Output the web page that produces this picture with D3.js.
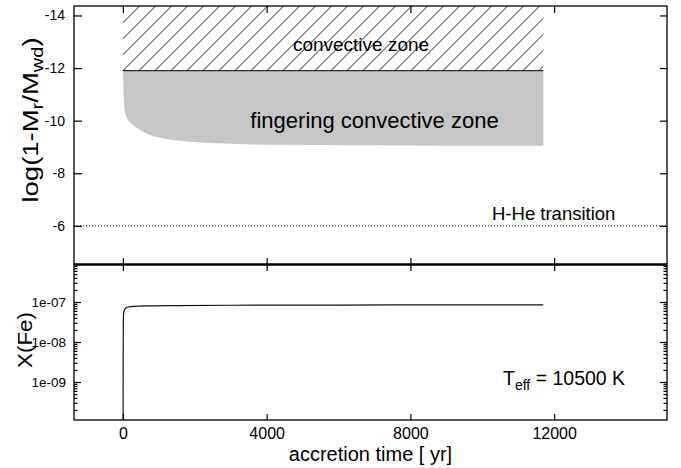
<!DOCTYPE html>
<html><head><meta charset="utf-8">
<script src="https://cdn.jsdelivr.net/npm/d3@7"></script>
<style>
body{margin:0;background:#fff}
svg{display:block}
text{font-family:"Liberation Sans",Arial,Helvetica,sans-serif;fill:#000}
</style>
</head><body>
<svg id="c" width="681" height="468"></svg>
<script>
// ---- data ----
const timeTicks = [0, 4000, 8000, 12000];
const depthTicks = [-14, -12, -10, -8, -6];
const feTicks = [1e-9, 1e-8, 1e-7];
const zoneTime = [0, 11700];
const convTop = -14.6;
const convBottom = -11.9;
const transitionDepth = -6;
const fingTime  = [0, 10, 20, 30, 45, 70, 110, 190, 300, 470, 750, 1100, 1500, 2200, 3000, 4500, 6500, 9000, 11700];
const fingLower = [-11.9, -11.5, -11.0, -10.7, -10.45, -10.25, -10.1, -9.95, -9.82, -9.65, -9.45, -9.33, -9.25, -9.17, -9.12, -9.08, -9.06, -9.05, -9.05];
const feTime  = [5, 7, 9, 12, 20, 40, 80, 150, 300, 700, 1500, 3000, 6000, 9000, 11700];
const feValue = [1e-11, 1e-9, 1e-8, 3e-8, 5e-8, 6.2e-8, 7e-8, 7.5e-8, 7.8e-8, 8.0e-8, 8.15e-8, 8.3e-8, 8.4e-8, 8.45e-8, 8.5e-8];

// ---- layout ----
const svg = d3.select('#c');
const L = 74, R = 667, T1 = 6, B1 = 264.5, B2 = 420;
const x = d3.scaleLinear().domain([-1360, 15140]).range([L, R]);
const y1 = d3.scaleLinear().domain([-4.53, -14.36]).range([B1, T1]);
const y2 = d3.scaleLog().domain([Math.pow(10, -9.95), Math.pow(10, -6.0625)]).range([B2, B1]);

const defs = svg.append('defs');
defs.append('clipPath').attr('id', 'clip1').append('rect')
  .attr('x', L).attr('y', T1).attr('width', R - L).attr('height', B1 - T1);
defs.append('clipPath').attr('id', 'clip2').append('rect')
  .attr('x', L).attr('y', B1).attr('width', R - L).attr('height', B2 - B1);
const pat = defs.append('pattern').attr('id', 'hatch')
  .attr('patternUnits', 'userSpaceOnUse').attr('width', 16).attr('height', 16)
  .attr('x', x(0)).attr('y', y1(convBottom));
pat.append('path').attr('d', 'M-4,4 L4,-4 M0,16 L16,0 M12,20 L20,12')
  .attr('stroke', '#000').attr('stroke-width', 0.9).attr('fill', 'none');

// ---- top panel ----
const g1 = svg.append('g').attr('clip-path', 'url(#clip1)');
g1.append('rect')
  .attr('x', x(zoneTime[0])).attr('width', x(zoneTime[1]) - x(zoneTime[0]))
  .attr('y', y1(convTop)).attr('height', y1(convBottom) - y1(convTop))
  .attr('fill', 'url(#hatch)');
const idx = d3.range(fingTime.length);
g1.append('path')
  .attr('d', d3.area().x(i => x(fingTime[i])).y0(y1(convBottom)).y1(i => y1(fingLower[i]))
    .curve(d3.curveMonotoneX)(idx))
  .attr('fill', '#c6c6c6');
g1.append('line')
  .attr('x1', x(zoneTime[0])).attr('x2', x(zoneTime[1]))
  .attr('y1', y1(convBottom)).attr('y2', y1(convBottom))
  .attr('stroke', '#000').attr('stroke-width', 1);
g1.append('line')
  .attr('x1', L).attr('x2', R).attr('y1', y1(transitionDepth)).attr('y2', y1(transitionDepth))
  .attr('stroke', '#000').attr('stroke-width', 1).attr('stroke-dasharray', '1,2');

// ---- bottom panel ----
const g2 = svg.append('g').attr('clip-path', 'url(#clip2)');
const fidx = d3.range(feTime.length);
g2.append('path')
  .attr('d', d3.line().x(i => x(feTime[i])).y(i => y2(feValue[i])).curve(d3.curveMonotoneX)(fidx))
  .attr('fill', 'none').attr('stroke', '#111').attr('stroke-width', 1.2);

// ---- axes ----
function style(g, fs) {
  g.select('.domain').remove();
  g.selectAll('.tick line').attr('stroke', '#000').attr('stroke-width', 1.2);
  g.selectAll('text').attr('font-size', fs).attr('fill', '#000')
    .attr('font-family', '"Liberation Sans",Arial,sans-serif');
}
const fmtInt = d => String(d);
const fmtExp = d => { const e = Math.round(Math.log10(d)); return '1e-' + String(-e).padStart(2, '0'); };

svg.append('g').attr('transform', `translate(${L},0)`)
  .call(d3.axisLeft(y1).tickValues(depthTicks).tickFormat(fmtInt).tickSizeInner(-8).tickSizeOuter(0).tickPadding(9))
  .call(g => style(g, 14));
svg.append('g').attr('transform', `translate(${R},0)`)
  .call(d3.axisRight(y1).tickValues(depthTicks).tickFormat('').tickSizeInner(-7).tickSizeOuter(0))
  .call(g => style(g, 14));
svg.append('g').attr('transform', `translate(0,${T1})`)
  .call(d3.axisTop(x).tickValues(timeTicks).tickFormat('').tickSizeInner(-7).tickSizeOuter(0))
  .call(g => style(g, 14));
svg.append('g').attr('transform', `translate(0,${B1})`)
  .call(d3.axisBottom(x).tickValues(timeTicks).tickFormat('').tickSizeInner(-6.5).tickSizeOuter(0))
  .call(g => style(g, 14));
svg.append('g').attr('transform', `translate(0,${B1})`)
  .call(d3.axisTop(x).tickValues(timeTicks).tickFormat('').tickSizeInner(-6.5).tickSizeOuter(0))
  .call(g => style(g, 14));
svg.append('g').attr('transform', `translate(0,${B2})`)
  .call(d3.axisBottom(x).tickValues(timeTicks).tickFormat(fmtInt).tickSizeInner(-6).tickSizeOuter(0).tickPadding(8))
  .call(g => style(g, 16));
const minor = y2.ticks().filter(v => { const m = v / Math.pow(10, Math.floor(Math.log10(v) + 1e-9)); return Math.abs(m - 1) > 1e-6; });
svg.append('g').attr('transform', `translate(${L},0)`)
  .call(d3.axisLeft(y2).tickValues(feTicks).tickFormat(fmtExp).tickSizeInner(-7).tickSizeOuter(0).tickPadding(8))
  .call(g => style(g, 13.5));
svg.append('g').attr('transform', `translate(${L},0)`)
  .call(d3.axisLeft(y2).tickValues(minor).tickFormat('').tickSizeInner(-3.5).tickSizeOuter(0))
  .call(g => style(g, 13));
svg.append('g').attr('transform', `translate(${R},0)`)
  .call(d3.axisRight(y2).tickValues(feTicks).tickFormat('').tickSizeInner(-7).tickSizeOuter(0))
  .call(g => style(g, 13));
svg.append('g').attr('transform', `translate(${R},0)`)
  .call(d3.axisRight(y2).tickValues(minor).tickFormat('').tickSizeInner(-3.5).tickSizeOuter(0))
  .call(g => style(g, 13));

svg.append('rect').attr('x', L).attr('y', T1).attr('width', R - L).attr('height', B2 - T1)
  .attr('fill', 'none').attr('stroke', '#000').attr('stroke-width', 1.3);
svg.append('line').attr('x1', L).attr('x2', R).attr('y1', B1).attr('y2', B1)
  .attr('stroke', '#000').attr('stroke-width', 2.5);

// ---- texts ----
svg.append('text').attr('x', 361).attr('y', 51).attr('text-anchor', 'middle')
  .attr('font-size', 19).text('convective zone');
svg.append('text').attr('x', 374.5).attr('y', 128).attr('text-anchor', 'middle')
  .attr('font-size', 22).text('fingering convective zone');
svg.append('text').attr('x', 492).attr('y', 220).attr('font-size', 18.5).text('H-He transition');

const teff = svg.append('text').attr('x', 503).attr('y', 385).attr('font-size', 19.5);
teff.append('tspan').text('T');
teff.append('tspan').attr('font-size', 14).attr('dy', 5).text('eff');
teff.append('tspan').attr('dy', -5).text(' = 10500 K');

svg.append('text').attr('x', (L + R) / 2).attr('y', 461).attr('text-anchor', 'middle')
  .attr('font-size', 20).text('accretion time [ yr]');

const yl = svg.append('text').attr('transform', 'translate(38,120) rotate(-90) scale(1.25,1)')
  .attr('text-anchor', 'middle').attr('font-size', 22);
yl.append('tspan').text('log(1-M');
yl.append('tspan').attr('font-size', 16).attr('dy', 5).text('r');
yl.append('tspan').attr('dy', -5).text('/M');
yl.append('tspan').attr('font-size', 16).attr('dy', 5).text('wd');
yl.append('tspan').attr('dy', -5).text(')');

svg.append('text').attr('transform', 'translate(32,340) rotate(-90) scale(1.12,1)')
  .attr('text-anchor', 'middle').attr('font-size', 20).text('X(Fe)');
</script>
</body></html>
